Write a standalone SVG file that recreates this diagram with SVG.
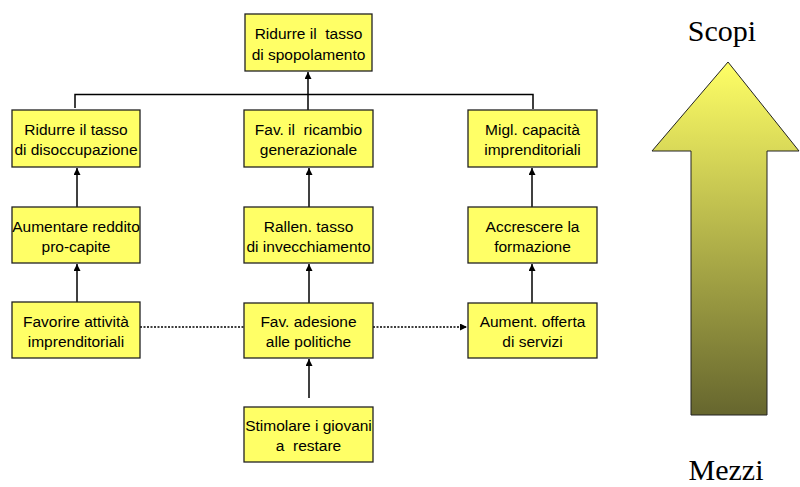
<svg xmlns="http://www.w3.org/2000/svg" width="800" height="487" viewBox="0 0 800 487">
<style>
.box{fill:#FFFF66;stroke:#222;stroke-width:1.3}
.t{font-family:"Liberation Sans",Arial,sans-serif;font-size:15.5px;fill:#000;text-anchor:middle;white-space:pre}
.big{font-family:"Liberation Serif","Times New Roman",serif;font-size:30px;fill:#000;text-anchor:middle}
.ln{stroke:#000;stroke-width:1.5;fill:none}
.dot{stroke:#000;stroke-width:1.3;stroke-dasharray:2 1.5;fill:none}
</style>
<defs>
<marker id="ah" viewBox="0 0 10 10" refX="10" refY="5" markerWidth="5" markerHeight="5" orient="auto" markerUnits="userSpaceOnUse"><path d="M0,0 L10,5 L0,10 z" fill="#000"/></marker>
<marker id="ah2" viewBox="0 0 10 10" refX="10" refY="5" markerWidth="7" markerHeight="7" orient="auto" markerUnits="userSpaceOnUse"><path d="M0,0 L10,5 L0,10 z" fill="#000"/></marker>
<linearGradient id="grad" x1="0" y1="0" x2="0" y2="1">
<stop offset="0" stop-color="#FFFF66"/>
<stop offset="1" stop-color="#66662E"/>
</linearGradient>
</defs>
<g id="connectors">
<path class="ln" d="M308,110 V72" marker-end="url(#ah2)"/>
<path class="ln" d="M75,108 V94.5 H533 V109"/>
<path class="ln" d="M77,302 V264" marker-end="url(#ah2)"/>
<path class="ln" d="M77,207 V168" marker-end="url(#ah2)"/>
<path class="ln" d="M309,303 V264" marker-end="url(#ah2)"/>
<path class="ln" d="M309,207 V168" marker-end="url(#ah2)"/>
<path class="ln" d="M309,398 V359" marker-end="url(#ah2)"/>
<path class="ln" d="M532,303 V264" marker-end="url(#ah2)"/>
<path class="ln" d="M532,207 V168" marker-end="url(#ah2)"/>
<path class="dot" d="M140,327 H244"/>
<path class="dot" d="M373,327 H467" marker-end="url(#ah2)"/>
</g>
<g id="n_top"><rect class="box" x="245" y="14" width="127" height="57"/><text class="t" x="308.5" y="39">Ridurre il  tasso</text><text class="t" x="308.5" y="60">di spopolamento</text></g>
<g id="n_l1"><rect class="box" x="12" y="110" width="128" height="57"/><text class="t" x="76" y="135">Ridurre il tasso</text><text class="t" x="76" y="155">di disoccupazione</text></g>
<g id="n_m1"><rect class="box" x="244" y="110" width="129" height="57"/><text class="t" x="308.5" y="135">Fav. il  ricambio</text><text class="t" x="308.5" y="155">generazionale</text></g>
<g id="n_r1"><rect class="box" x="468" y="110" width="129" height="57"/><text class="t" x="532.5" y="135">Migl. capacità</text><text class="t" x="532.5" y="155">imprenditoriali</text></g>
<g id="n_l2"><rect class="box" x="12" y="207" width="128" height="56"/><text class="t" x="76" y="232">Aumentare reddito</text><text class="t" x="76" y="252">pro-capite</text></g>
<g id="n_m2"><rect class="box" x="244" y="207" width="129" height="56"/><text class="t" x="308.5" y="232">Rallen. tasso</text><text class="t" x="308.5" y="252">di invecchiamento</text></g>
<g id="n_r2"><rect class="box" x="468" y="207" width="129" height="56"/><text class="t" x="532.5" y="232">Accrescere la</text><text class="t" x="532.5" y="252">formazione</text></g>
<g id="n_l3"><rect class="box" x="12" y="302" width="128" height="56"/><text class="t" x="76" y="327">Favorire attività</text><text class="t" x="76" y="347">imprenditoriali</text></g>
<g id="n_m3"><rect class="box" x="244" y="303" width="129" height="55"/><text class="t" x="308.5" y="327">Fav. adesione</text><text class="t" x="308.5" y="347">alle politiche</text></g>
<g id="n_r3"><rect class="box" x="468" y="303" width="129" height="55"/><text class="t" x="532.5" y="327">Aument. offerta</text><text class="t" x="532.5" y="347">di servizi</text></g>
<g id="n_bot"><rect class="box" x="244" y="407" width="129" height="55"/><text class="t" x="308.5" y="431">Stimolare i giovani</text><text class="t" x="308.5" y="451">a  restare</text></g>
<g id="scale">
<path d="M728,62 L799,151 L767,151 L767,415 L691,415 L691,151 L652,151 Z" fill="url(#grad)" stroke="#222" stroke-width="1"/>
<text class="big" x="722" y="41">Scopi</text>
<text class="big" x="726" y="480">Mezzi</text>
</g>
</svg>
